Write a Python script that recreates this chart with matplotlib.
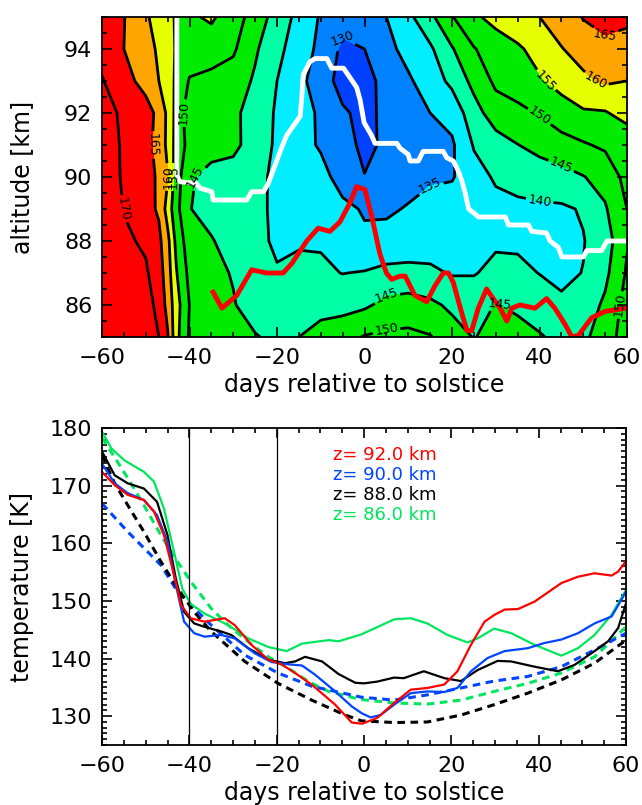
import numpy as np
import matplotlib.pyplot as plt
from matplotlib.ticker import MultipleLocator

# ---- top panel: temperature field (K) vs day and altitude ----
days = [-60, -55, -50, -47, -45, -43, -40, -35, -30, -25, -20, -15, -10, -5,
        0, 5, 10, 15, 20, 25, 30, 35, 40, 45, 50, 55, 60]
alts = [85, 86, 87, 88, 89, 90, 91, 92, 93, 94, 95]

t85 = [181.0, 176.0, 173.0, 170.0, 165.5, 156.5, 149.3, 147.5, 146.2, 145.3, 144.0, 145.0, 147.0, 148.5,
       150.3, 151.0, 151.2, 150.3, 147.0, 144.8, 146.5, 146.8, 145.5, 143.5, 144.0, 147.5, 152.5]
t86 = [179.4, 174.2, 172.1, 168.5, 163.4, 157.0, 149.9, 147.2, 145.3, 143.0, 141.6, 142.3, 143.2, 143.2,
       144.2, 146.4, 147.0, 146.0, 144.1, 143.1, 145.2, 144.1, 142.2, 140.6, 142.2, 145.9, 151.9]
t87 = [177.6, 172.5, 170.6, 167.4, 162.3, 155.3, 148.6, 146.2, 144.7, 142.8, 140.3, 140.5, 140.7, 139.9,
       140.3, 141.4, 141.6, 141.0, 139.6, 139.7, 141.3, 141.0, 139.9, 139.2, 140.1, 143.8, 150.6]
t88 = [175.9, 170.8, 169.3, 166.2, 161.4, 153.6, 147.1, 145.2, 143.8, 141.0, 139.4, 139.8, 139.6, 137.0,
       135.7, 136.3, 136.8, 137.5, 136.4, 137.5, 139.3, 139.3, 138.5, 137.8, 139.8, 142.5, 149.6]
t89 = [174.8, 169.8, 166.8, 164.3, 158.0, 151.5, 145.1, 144.0, 143.2, 141.0, 139.2, 138.4, 137.8, 136.0,
       134.6, 134.4, 135.3, 136.8, 137.5, 138.0, 138.6, 139.0, 139.2, 139.3, 140.4, 144.5, 150.0]
t90 = [173.8, 169.2, 167.2, 164.1, 160.3, 152.4, 145.4, 143.9, 143.6, 140.9, 139.3, 138.9, 136.5, 133.2,
       130.1, 130.9, 133.6, 134.3, 134.6, 138.1, 140.6, 141.6, 142.5, 143.3, 144.8, 146.8, 151.6]
t91 = [172.8, 169.3, 166.5, 163.5, 158.8, 153.2, 148.3, 146.3, 145.8, 143.5, 139.0, 136.6, 134.5, 131.3,
       129.2, 130.6, 132.2, 133.0, 134.3, 140.4, 142.8, 144.9, 146.5, 148.0, 149.5, 150.8, 151.5]
t92 = [172.4, 168.9, 167.3, 163.5, 159.0, 153.4, 147.0, 146.7, 146.0, 143.0, 139.4, 137.1, 134.2, 130.6,
       128.8, 131.0, 134.2, 135.0, 136.7, 143.0, 147.6, 148.6, 150.4, 153.0, 154.4, 154.6, 156.9]
t93 = [170.3, 167.0, 163.0, 160.0, 157.2, 154.2, 149.6, 148.5, 147.8, 144.3, 140.0, 136.5, 132.2, 128.3,
       128.6, 131.3, 134.3, 137.4, 141.2, 146.5, 151.0, 152.8, 154.5, 156.5, 159.1, 160.7, 160.0]
t94 = [168.5, 165.0, 161.5, 159.4, 156.7, 154.6, 152.8, 152.5, 150.7, 145.7, 141.2, 137.7, 133.7, 129.0,
       130.0, 133.6, 136.6, 139.2, 144.6, 149.7, 152.5, 154.3, 156.7, 159.8, 161.8, 164.0, 163.5]
t95 = [167.5, 165.2, 160.6, 158.2, 156.1, 154.6, 154.3, 155.7, 152.5, 147.7, 143.0, 138.5, 134.5, 132.0,
       133.0, 135.0, 138.8, 143.8, 149.7, 154.2, 156.5, 158.2, 160.0, 162.2, 165.3, 166.3, 165.8]

fill_levels = [100, 130, 135, 140, 145, 150, 155, 160, 165, 200]
fill_colors = ['#0040FF', '#0082FF', '#00EEFF', '#00FFA6', '#00EB00', '#00EB00',
               '#E6FF00', '#FFA500', '#FF0000']
line_levels = [130, 135, 140, 145, 150, 155, 160, 165, 170]

# white line (altitude track)
white_day = [-42.9, -42.9, -42.2, -38.4, -37.6, -34.9, -34.6, -26.9, -25.8, -23.1, -22.0, -20.9,
             -19.0, -17.8, -14.7, -14.4, -14.0, -12.5, -11.3, -8.6, -7.5, -4.8, -3.3, -1.8, -1.0,
             -0.1, 1.6, 2.4, 7.4, 8.1, 10.0, 10.4, 12.3, 13.4, 18.0, 18.8, 20.3, 21.4, 22.2,
             23.0, 23.8, 26.1, 32.2, 32.9, 37.5, 38.2, 41.6, 42.4, 44.3, 45.1, 50.0, 50.8,
             54.2, 55.4, 60.0]
white_alt = [95.0, 90.06, 89.85, 89.8, 89.65, 89.54, 89.28, 89.28, 89.54, 89.54, 89.8, 90.2,
             90.9, 91.3, 91.9, 92.4, 93.2, 93.6, 93.7, 93.7, 93.4, 93.4, 93.1, 92.8, 92.4,
             91.7, 91.3, 91.05, 91.05, 90.9, 90.7, 90.5, 90.5, 90.8, 90.8, 90.6, 90.5, 90.2, 89.9,
             89.5, 89.0, 88.75, 88.75, 88.5, 88.5, 88.3, 88.25, 88.0, 87.8, 87.5, 87.5, 87.7,
             87.7, 88.0, 88.0]

# red line (altitude track)
red_day = [-34.6, -32.6, -29.2, -25.8, -22.4, -18.6, -16.6, -13.2, -10.6, -7.9, -5.6, -3.3, -1.8,
           0.1, 1.6, 3.5, 5.0, 6.2, 8.1, 9.3, 11.5, 14.2, 16.1, 18.0, 19.2, 20.3, 21.9, 23.4,
           24.5, 26.0, 27.9, 29.4, 31.0, 32.5, 33.7, 35.5, 39.0, 41.6, 43.5, 45.8, 47.4, 48.9,
           51.9, 55.0, 60.0]
red_alt = [86.4, 85.9, 86.3, 87.1, 87.0, 87.0, 87.3, 88.0, 88.4, 88.3, 88.6, 89.2, 89.7,
           89.6, 88.8, 87.6, 87.0, 86.8, 86.9, 86.9, 86.3, 86.1, 86.6, 87.0, 87.0, 86.7, 85.9, 85.2,
           85.2, 85.9, 86.5, 86.2, 85.9, 85.5, 85.9, 86.0, 85.9, 86.2, 85.9, 85.4, 85.0, 85.05,
           85.6, 85.8, 85.9]

# ---- bottom panel: temperature at fixed altitudes ----
d92 = [-60, -57.1, -54.1, -50.4, -48.1, -45.8, -43.5, -41.9, -39.7, -36.5, -31.9, -29.6, -25.8,
       -21.9, -18.9, -15.8, -12.0, -6.6, -2.8, -0.4, 3.0, 6.9, 10.7, 14.5, 18.4, 21.4, 24.5,
       27.6, 29.9, 32.2, 35.3, 39.1, 45.2, 49.0, 52.8, 56.7, 58.2, 60]
t92_line = [172.4, 170.1, 168.4, 167.5, 165.5, 161.4, 154.5, 149.3, 147.0, 146.4, 147.0, 145.8, 142.4,
            139.8, 139.0, 137.5, 135.5, 132.0, 128.9, 128.7, 129.7, 132.3, 134.6, 134.9, 135.5, 137.8,
            142.4, 146.4, 147.6, 148.5, 148.6, 149.9, 153.1, 154.2, 154.8, 154.4, 155.1, 156.9]

d90 = [-60, -57.1, -54.1, -50.4, -47.4, -45.0, -43.1, -41.2, -38.9, -36.5, -32.7, -29.6, -25.0,
       -21.2, -17.3, -14.2, -11.2, -6.6, -2.8, -0.5, 1.5, 3.8, 6.9, 10.7, 14.5, 18.4, 21.4,
       24.5, 28.3, 32.2, 37.5, 41.3, 45.2, 49.0, 52.8, 56.7, 60]
t90_line = [173.8, 170.4, 168.7, 167.5, 164.9, 160.3, 152.8, 146.4, 144.4, 143.8, 144.1, 143.5, 140.9,
            139.4, 139.0, 138.8, 137.2, 134.3, 131.7, 130.5, 129.8, 130.2, 132.0, 134.0, 134.3, 134.2,
            134.9, 137.8, 140.1, 141.3, 141.8, 142.7, 143.3, 144.4, 146.1, 147.3, 151.6]

d88 = [-60, -57.1, -54.1, -50.4, -47.4, -45.0, -43.1, -41.2, -38.9, -36.5, -32.7, -30.4, -26.5,
       -21.9, -18.1, -15.8, -13.5, -9.6, -5.8, -2.0, 0, 3.0, 6.9, 9.1, 13.7, 18.4, 22.2, 26.0,
       30.6, 33.7, 39.0, 44.4, 48.2, 52.8, 55.9, 58.2, 60]
t88_line = [175.9, 171.8, 170.4, 169.5, 167.2, 161.4, 153.9, 148.1, 146.1, 145.5, 144.7, 144.1, 141.8,
            139.8, 139.2, 139.5, 140.3, 139.5, 137.3, 135.8, 135.7, 136.0, 136.7, 136.6, 137.8, 136.6,
            136.1, 138.0, 139.6, 139.5, 138.6, 137.8, 138.9, 141.3, 143.0, 145.3, 149.6]

d86 = [-60, -57.9, -54.9, -50.4, -48.1, -45.8, -43.5, -41.6, -39.7, -36.5, -31.1, -26.5, -21.9,
       -17.7, -14.2, -8.1, -5.8, -0.6, 6.9, 10.7, 14.5, 19.1, 23.7, 26.0, 29.8, 33.7, 39.0,
       45.2, 49.0, 52.8, 56.7, 60]
t86_line = [179.4, 176.5, 174.4, 172.4, 170.7, 166.0, 158.5, 152.1, 149.5, 147.8, 145.8, 143.5, 142.0,
            141.3, 142.6, 143.2, 143.0, 144.2, 146.8, 147.0, 146.1, 144.1, 142.8, 143.5, 145.2, 144.4,
            142.4, 140.5, 141.8, 144.1, 147.6, 151.9]

# dashed reference curves
dd86 = [-60, -57.1, -54.1, -50.4, -46.5, -42.7, -39.6, -35.0, -31.1, -26.5, -21.9, -17.3, -12.7,
        -8.1, -0.8, 6.9, 14.5, 22.2, 29.8, 37.5, 45.2, 52.8, 60]
td86 = [178.3, 174.9, 171.3, 166.6, 161.4, 156.8, 153.3, 148.7, 145.8, 142.9, 140.3, 138.3, 136.0,
        134.3, 132.9, 132.3, 132.1, 132.8, 134.3, 135.7, 137.5, 140.3, 145.5]
dd90 = [-60, -54.1, -46.5, -42.7, -35.0, -27.3, -19.7, -12.0, -0.6, 6.9, 14.5, 22.2, 29.8,
        37.5, 45.2, 52.8, 60]
td90 = [166.9, 162.0, 156.2, 151.6, 145.8, 140.6, 137.5, 135.2, 133.3, 132.8, 133.7, 134.9, 136.1,
        136.9, 138.6, 141.5, 144.4]
dd88 = [-60, -57.1, -54.1, -50.4, -46.5, -42.7, -38.9, -35.0, -27.3, -19.7, -12.0, -4.3, -0.6,
        6.9, 14.5, 22.2, 29.8, 37.5, 45.2, 52.8, 60]
td88 = [175.3, 170.4, 166.6, 162.0, 156.8, 152.2, 148.1, 144.7, 139.5, 135.7, 132.8, 130.2, 129.2,
        128.9, 129.0, 130.2, 132.0, 134.0, 136.3, 139.2, 143.2]

legend_labels = ['z= 92.0 km', 'z= 90.0 km', 'z= 88.0 km', 'z= 86.0 km']
c_red, c_blue, c_black, c_green = '#FF0000', '#0044FF', '#000000', '#00E65C'

plt.rcParams['font.family'] = 'DejaVu Sans'
plt.rcParams['axes.linewidth'] = 1.3

fig = plt.figure(figsize=(6.42, 8.05), dpi=100)


def style_axes(ax):
    ax.tick_params(which='both', direction='in', top=True, right=True, width=1.2, labelsize=16)
    ax.tick_params(axis='x', pad=8)
    ax.tick_params(axis='y', pad=7)
    ax.tick_params(which='major', length=7)
    ax.tick_params(which='minor', length=3.5)


# top panel
ax1 = fig.add_axes([0.1589, 0.5814, 0.8178, 0.3975])
temp = np.array([t85, t86, t87, t88, t89, t90, t91, t92, t93, t94, t95])
ax1.contourf(days, alts, temp, levels=fill_levels, colors=fill_colors)
cs = ax1.contour(days, alts, temp, levels=line_levels, colors='k', linewidths=2.0)
ax1.clabel(cs, fmt='%d', fontsize=9, inline=True, inline_spacing=2)
ax1.plot(white_day, white_alt, color='white', lw=3.5)
ax1.plot(red_day, red_alt, color='#FF0000', lw=3.5)
ax1.set_xlim(-60, 60)
ax1.set_ylim(85, 95)
ax1.xaxis.set_major_locator(MultipleLocator(20))
ax1.xaxis.set_minor_locator(MultipleLocator(5))
ax1.yaxis.set_major_locator(MultipleLocator(2))
ax1.yaxis.set_minor_locator(MultipleLocator(0.5))
style_axes(ax1)
ax1.set_xlabel('days relative to solstice', fontsize=17)
ax1.set_ylabel('altitude [km]', fontsize=17)
ax1.xaxis.set_label_coords(0.5, -0.112)
ax1.yaxis.set_label_coords(-0.13, 0.5)

# bottom panel
ax2 = fig.add_axes([0.1589, 0.0745, 0.8162, 0.3938])
ax2.plot(dd86, td86, color=c_green, lw=2.2, ls=(0, (2.5, 1.8)))
ax2.plot(dd90, td90, color=c_blue, lw=2.2, ls=(0, (2.5, 1.8)))
ax2.plot(dd88, td88, color=c_black, lw=2.2, ls=(0, (2.5, 1.8)))
ax2.plot(d86, t86_line, color=c_green, lw=1.6)
ax2.plot(d88, t88_line, color=c_black, lw=1.6)
ax2.plot(d90, t90_line, color=c_blue, lw=1.6)
ax2.plot(d92, t92_line, color=c_red, lw=1.6)
ax2.axvline(-40, color='k', lw=0.9)
ax2.axvline(-20, color='k', lw=0.9)
ax2.set_xlim(-60, 60)
ax2.set_ylim(125, 180)
ax2.xaxis.set_major_locator(MultipleLocator(20))
ax2.xaxis.set_minor_locator(MultipleLocator(5))
ax2.yaxis.set_major_locator(MultipleLocator(10))
ax2.yaxis.set_minor_locator(MultipleLocator(1))
style_axes(ax2)
ax2.set_xlabel('days relative to solstice', fontsize=17)
ax2.set_ylabel('temperature [K]', fontsize=17)
ax2.xaxis.set_label_coords(0.5, -0.112)
ax2.yaxis.set_label_coords(-0.13, 0.5)

for i, (lab, col) in enumerate(zip(legend_labels, [c_red, c_blue, c_black, c_green])):
    ax2.text(0.441, 0.915 - i * 0.063, lab, color=col, fontsize=13,
             transform=ax2.transAxes, va='center', ha='left')

fig.savefig('out.png', dpi=100)
